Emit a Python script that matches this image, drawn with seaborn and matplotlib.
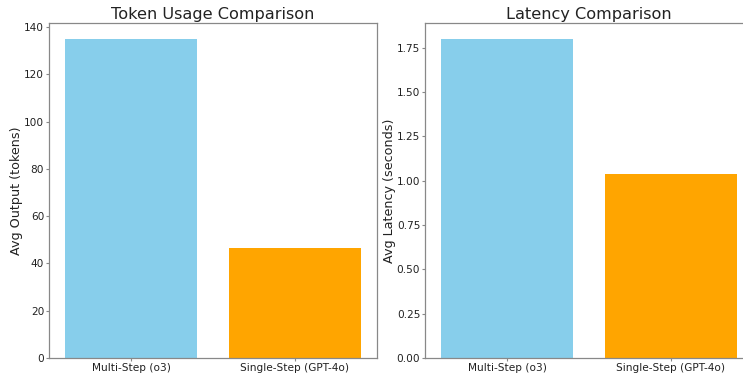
import matplotlib
matplotlib.use("Agg")
import matplotlib.pyplot as plt
import seaborn as sns
import pandas as pd

methods = ["Multi-Step (o3)", "Single-Step (GPT-4o)"]
avg_tokens = [135.0, 46.4]
avg_latency = [1.80, 1.04]
bar_colors = ["skyblue", "orange"]

df = pd.DataFrame({"method": methods, "tokens": avg_tokens, "latency": avg_latency})

W, H = 743, 376
fig = plt.figure(figsize=(W / 100, H / 100), dpi=100)

# axes boxes in pixels (left, bottom, right, top); the right one runs past the edge like the crop
ax1 = fig.add_axes([49 / W, (H - 358) / H, (377 - 49) / W, (358 - 23) / H])
ax2 = fig.add_axes([425 / W, (H - 358) / H, (753 - 425) / W, (358 - 23) / H])

sns.barplot(data=df, x="method", y="tokens", hue="method", palette=bar_colors,
            legend=False, saturation=1, width=0.8, ax=ax1)
sns.barplot(data=df, x="method", y="latency", hue="method", palette=bar_colors,
            legend=False, saturation=1, width=0.8, ax=ax2)

ax1.set_title("Token Usage Comparison", fontsize=11.6, pad=3, color="#222222")
ax1.set_ylabel("Avg Output (tokens)", fontsize=9.2, labelpad=0.5, color="#222222")
ax1.set_ylim(0, 135 * 1.05)
ax1.set_yticks([0, 20, 40, 60, 80, 100, 120, 140])

ax2.set_title("Latency Comparison", fontsize=11.6, pad=3, color="#222222")
ax2.set_ylabel("Avg Latency (seconds)", fontsize=9.2, labelpad=0.5, color="#222222")
ax2.set_ylim(0, 1.80 * 1.05)
ax2.set_yticks([0, 0.25, 0.5, 0.75, 1.0, 1.25, 1.5, 1.75])
ax2.set_yticklabels(["0.00", "0.25", "0.50", "0.75", "1.00", "1.25", "1.50", "1.75"])

for ax in (ax1, ax2):
    ax.set_xlabel("")
    ax.tick_params(axis="both", labelsize=7.6, length=2, pad=1.5,
                   color="#888888", labelcolor="#222222")
    for s in ax.spines.values():
        s.set_color("#888888")
        s.set_linewidth(0.9)

fig.savefig("out.png", dpi=100)
